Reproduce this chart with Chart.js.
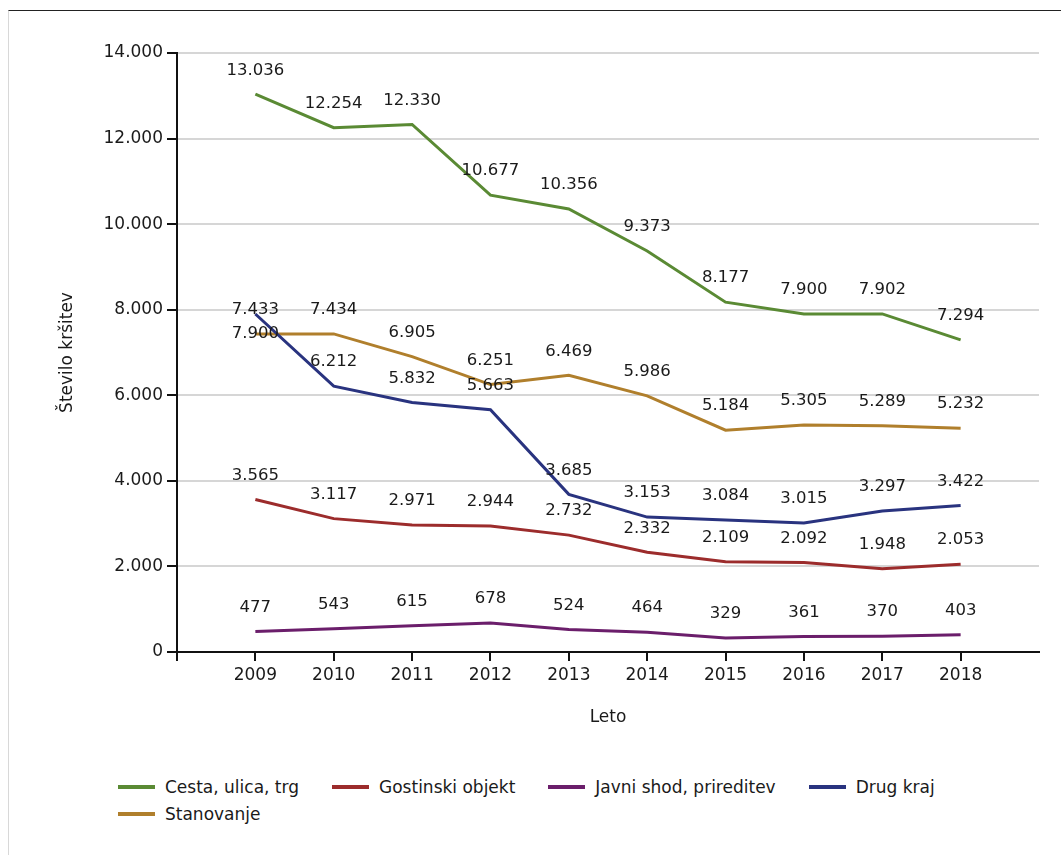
<!DOCTYPE html>
<html lang="sl">
<head>
  <meta charset="UTF-8">
  <title>Število kršitev po krajih</title>
  <script src="https://cdn.jsdelivr.net/npm/chart.js"></script>
  <style>
    body {
      margin: 0;
      background: #fff;
      font-family: "DejaVu Sans", sans-serif;
    }
    .frame {
      position: absolute;
      left: 8px;
      top: 10px;
      width: 1053px;
      height: 845px;
      border-top: 1px solid #222;
      border-left: 1px solid #d8d8d8;
    }
    #wrap {
      position: absolute;
      left: 0;
      top: 0;
      width: 1061px;
      height: 760px;
    }
    #legend {
      position: absolute;
      left: 118px;
      top: 774px;
      width: 860px;
      display: flex;
      flex-wrap: wrap;
      row-gap: 1px;
      column-gap: 33px;
      font-size: 17px;
      color: #1a1a1a;
    }
    .item {
      display: flex;
      align-items: center;
      height: 26px;
    }
    .swatch {
      width: 37px;
      height: 4px;
      margin-right: 10px;
    }
  </style>
</head>
<body>
  <div class="frame"></div>
  <div id="wrap"><canvas id="chart"></canvas></div>
  <div id="legend"></div>

  <script>
    const years = [2009, 2010, 2011, 2012, 2013, 2014, 2015, 2016, 2017, 2018];
    const cesta = [13036, 12254, 12330, 10677, 10356, 9373, 8177, 7900, 7902, 7294];
    const gostinski = [3565, 3117, 2971, 2944, 2732, 2332, 2109, 2092, 1948, 2053];
    const javni = [477, 543, 615, 678, 524, 464, 329, 361, 370, 403];
    const drugKraj = [7900, 6212, 5832, 5663, 3685, 3153, 3084, 3015, 3297, 3422];
    const stanovanje = [7433, 7434, 6905, 6251, 6469, 5986, 5184, 5305, 5289, 5232];
    const yTicks = [0, 2000, 4000, 6000, 8000, 10000, 12000, 14000];

    function fmt(v) {
      return String(v).replace(/\B(?=(\d{3})+(?!\d))/g, '.');
    }

    function series(label, values, color) {
      return {
        label: label,
        data: years.map((y, i) => ({ x: y, y: values[i] })),
        borderColor: color,
        backgroundColor: color,
        borderWidth: 3,
        pointRadius: 0,
        tension: 0
      };
    }

    // vrednosti nad točkami (pri Drug kraj 2009 pod točko)
    const valueLabels = {
      id: 'valueLabels',
      afterDatasetsDraw(chart) {
        const ctx = chart.ctx;
        ctx.save();
        ctx.font = '16.5px "DejaVu Sans"';
        ctx.fillStyle = '#1a1a1a';
        ctx.textAlign = 'center';
        ctx.textBaseline = 'middle';
        chart.data.datasets.forEach((ds, i) => {
          chart.getDatasetMeta(i).data.forEach((pt, j) => {
            const below = ds.label === 'Drug kraj' && j === 0;
            ctx.fillText(fmt(ds.data[j].y), pt.x, pt.y + (below ? 20 : -24));
          });
        });
        ctx.restore();
      }
    };

    const chart = new Chart(document.getElementById('chart'), {
      type: 'line',
      data: {
        datasets: [
          series('Cesta, ulica, trg', cesta, '#5a8a34'),
          series('Gostinski objekt', gostinski, '#9c2c2c'),
          series('Javni shod, prireditev', javni, '#6b1e6b'),
          series('Drug kraj', drugKraj, '#29337f'),
          series('Stanovanje', stanovanje, '#b07f2c')
        ]
      },
      options: {
        responsive: true,
        maintainAspectRatio: false,
        animation: false,
        layout: { padding: { left: 50, right: 22, top: 53, bottom: 18 } },
        plugins: {
          legend: { display: false },
          tooltip: { enabled: false }
        },
        scales: {
          x: {
            type: 'linear',
            min: 2008,
            max: 2019,
            afterBuildTicks: s => { s.ticks = [2008].concat(years).map(v => ({ value: v })); },
            afterFit: s => { s.height = 90; },
            border: { color: '#111', width: 2 },
            grid: { drawOnChartArea: false, tickLength: 9, tickColor: '#111', lineWidth: 2 },
            ticks: {
              padding: 4,
              color: '#1a1a1a',
              font: { family: 'DejaVu Sans', size: 17 },
              callback: v => years.includes(v) ? String(v) : ''
            },
            title: {
              display: true,
              text: 'Leto',
              color: '#1a1a1a',
              font: { family: 'DejaVu Sans', size: 17 },
              padding: { top: 0, bottom: 14 }
            }
          },
          y: {
            min: 0,
            max: 14000,
            afterBuildTicks: s => { s.ticks = yTicks.map(v => ({ value: v })); },
            afterFit: s => { s.width = 127; },
            border: { color: '#111', width: 2 },
            grid: { color: '#d6d6d6', lineWidth: 2, tickLength: 10, tickColor: '#111' },
            ticks: {
              padding: 4,
              color: '#1a1a1a',
              font: { family: 'DejaVu Sans', size: 17 },
              callback: v => fmt(v)
            },
            title: {
              display: true,
              text: 'Število kršitev',
              color: '#1a1a1a',
              font: { family: 'DejaVu Sans', size: 17 },
              padding: { top: 7, bottom: 0 }
            }
          }
        }
      },
      plugins: [valueLabels]
    });

    // legenda v HTML, iz podatkov grafa
    const legend = document.getElementById('legend');
    chart.data.datasets.forEach(ds => {
      const item = document.createElement('div');
      item.className = 'item';
      const sw = document.createElement('span');
      sw.className = 'swatch';
      sw.style.background = ds.borderColor;
      const txt = document.createElement('span');
      txt.textContent = ds.label;
      item.appendChild(sw);
      item.appendChild(txt);
      legend.appendChild(item);
    });
  </script>
</body>
</html>
